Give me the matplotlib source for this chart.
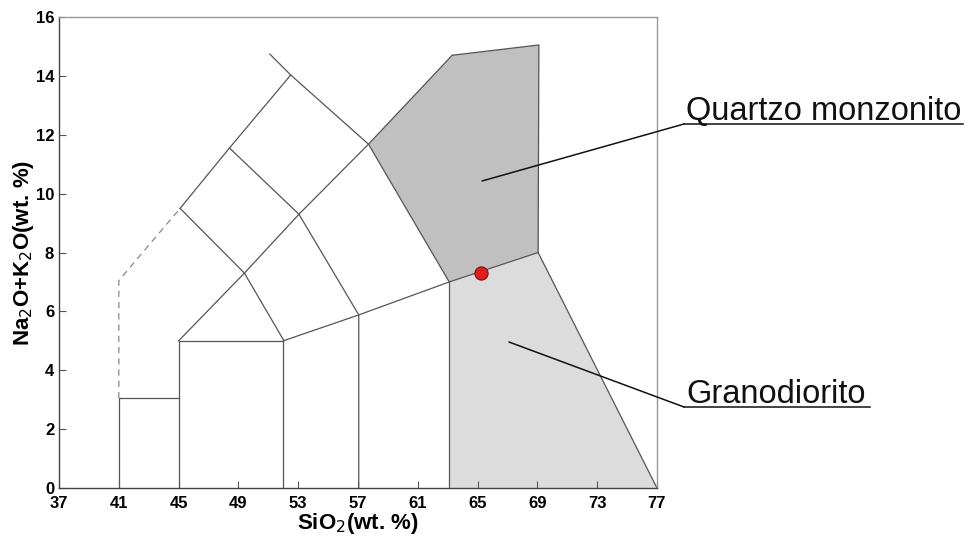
import numpy as np
import matplotlib.pyplot as plt
from matplotlib.lines import Line2D

plt.rcParams['font.family'] = ['Liberation Sans', 'DejaVu Sans']

# ----------------------------
# Data: TAS field boundaries (SiO2, Na2O+K2O)
# ----------------------------
box41_x = [41, 41, 45]
box41_y = [0, 3.05, 3.05]
dash41_x = [41, 41, 45.1]
dash41_y = [3.05, 7.05, 9.5]
box45_x = [45, 45, 52, 52]
box45_y = [0, 5, 5, 0]
diagA_x = [45, 49.4, 53.05, 57.7, 63.3]
diagA_y = [5, 7.3, 9.3, 11.68, 14.7]
diagB_x = [45.1, 48.4, 52.5]
diagB_y = [9.5, 11.55, 14.03]
crossC_x = [51.1, 52.5, 57.7, 63.1]
crossC_y = [14.74, 14.03, 11.68, 7.0]
crossD_x = [48.4, 53.05, 57.05, 57.05]
crossD_y = [11.55, 9.3, 5.88, 0]
crossE_x = [45.1, 49.4, 52.05]
crossE_y = [9.5, 7.3, 5.0]
alk_x = [52, 57.05, 63.1, 69.05, 77]
alk_y = [5, 5.88, 7.0, 8.0, 0]
v63_x = [63.1, 63.1]
v63_y = [0, 7.0]
qmtop_x = [63.3, 69.1, 69.05]
qmtop_y = [14.7, 15.05, 8.0]

# highlighted fields
qm_x = [57.7, 63.3, 69.1, 69.05, 63.1]
qm_y = [11.68, 14.7, 15.05, 8.0, 7.0]
gd_x = [63.1, 69.05, 77, 63.1]
gd_y = [7.0, 8.0, 0, 0]

# sample
sample_x = [65.2]
sample_y = [7.29]

# labels
labels = ["Quartzo monzonito", "Granodiorito"]
label_xy = [(65.3, 10.43), (67.1, 4.96)]

xticks = np.arange(37, 78, 4)
yticks = np.arange(0, 17, 2)

# ----------------------------
# Plot
# ----------------------------
fig = plt.figure(figsize=(9.71, 5.38), dpi=100)
ax = fig.add_axes([0.0608, 0.0929, 0.6158, 0.8755])

ax.fill(qm_x, qm_y, color="#c0c0c0", lw=0, zorder=1)
ax.fill(gd_x, gd_y, color="#dcdcdc", lw=0, zorder=1)

lc = "#555555"
lw = 0.9
for xs, ys in [(box41_x, box41_y), (box45_x, box45_y), (diagA_x, diagA_y),
               (diagB_x, diagB_y), (crossC_x, crossC_y), (crossD_x, crossD_y),
               (crossE_x, crossE_y), (alk_x, alk_y), (v63_x, v63_y),
               (qmtop_x, qmtop_y)]:
    ax.plot(xs, ys, color=lc, lw=lw, zorder=2)
ax.plot(dash41_x, dash41_y, color="#888888", lw=lw, ls=(0, (5, 4)), zorder=2)

ax.scatter(sample_x, sample_y, s=90, color="#e02020", edgecolor="#7a1010",
           linewidth=0.8, zorder=5)

ax.set_xlim(37, 77)
ax.set_ylim(0, 16)
ax.set_xticks(xticks)
ax.set_yticks(yticks)
ax.tick_params(direction="in", length=5, width=0.8, color="#555555",
               labelsize=12)
for t in ax.get_xticklabels() + ax.get_yticklabels():
    t.set_fontweight("bold")
ax.tick_params(axis="x", pad=6)

ax.spines["left"].set_color("#444444")
ax.spines["bottom"].set_color("#444444")
ax.spines["top"].set_color("#999999")
ax.spines["right"].set_color("#999999")
for s in ax.spines.values():
    s.set_linewidth(1.0)

ax.set_xlabel("SiO$_2$(wt. %)", fontsize=16, fontweight="bold", labelpad=0)
ax.set_ylabel("Na$_2$O+K$_2$O(wt. %)", fontsize=16, fontweight="bold", labelpad=0)

# labels with leader lines (figure pixel positions)
W, H = 971, 538
lab_pix = [(684, 124, 963), (684, 407, 870)]
for name, xy, (px, py, pend) in zip(labels, label_xy, lab_pix):
    fx, fy = px / W, 1 - py / H
    ax.annotate("", xy=xy, xycoords="data", xytext=(fx, fy),
                textcoords="figure fraction",
                arrowprops=dict(arrowstyle="-", color="#111111", lw=1.1,
                                shrinkA=0, shrinkB=0), zorder=6)
    fig.add_artist(Line2D([fx, pend / W], [fy, fy], color="#111111", lw=1.1))
    fig.text(fx + 2 / W, fy + 4 / H, name, fontsize=23.5, color="#111111",
             ha="left", va="baseline")

plt.savefig("out.png", dpi=100)
